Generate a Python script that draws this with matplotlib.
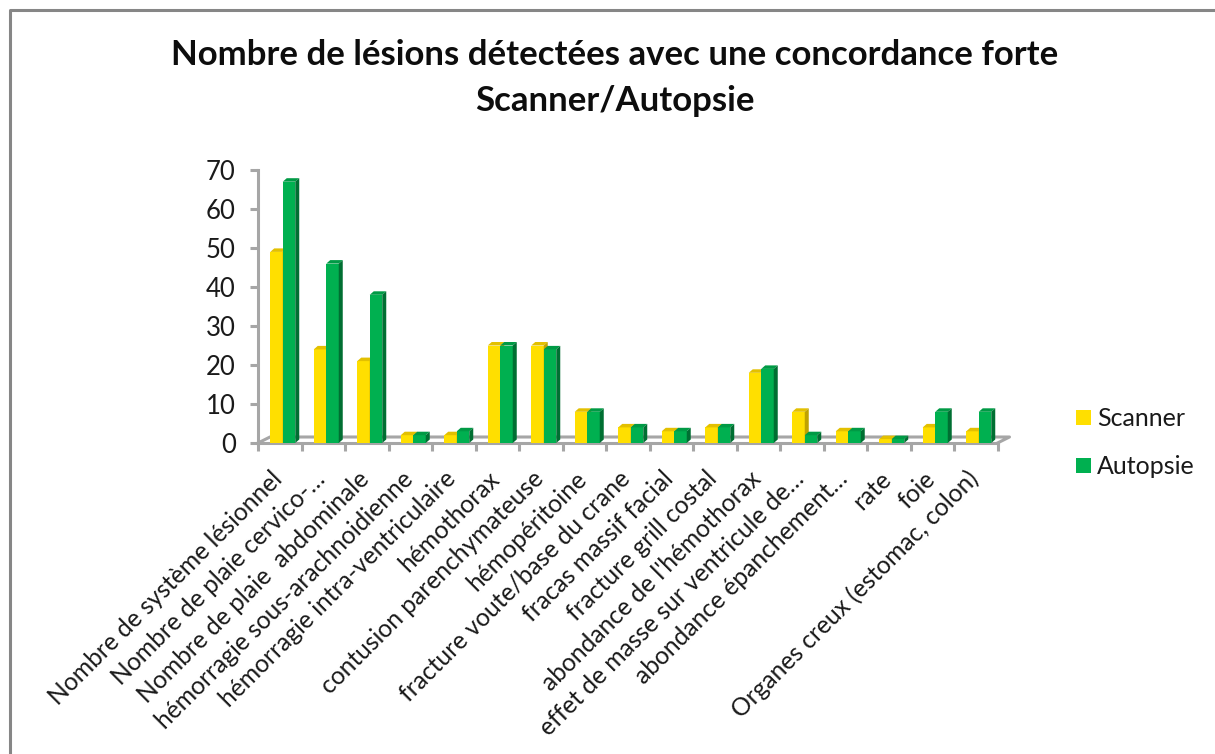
import matplotlib
matplotlib.use('Agg')
import matplotlib.pyplot as plt
from matplotlib.patches import Polygon, Rectangle

categories = ["Nombre de système lésionnel", "Nombre de plaie cervico-…",
              "Nombre de plaie  abdominale", "hémorragie sous-arachnoidienne",
              "hémorragie intra-ventriculaire", "hémothorax",
              "contusion parenchymateuse", "hémopéritoine",
              "fracture voute/base du crane", "fracas massif facial",
              "fracture grill costal", "abondance de l'hémothorax",
              "effet de masse sur ventricule de…", "abondance épanchement…",
              "rate", "foie", "Organes creux (estomac, colon)"]
scanner = [49, 24, 21, 2, 2, 25, 25, 8, 4, 3, 4, 18, 8, 3, 1, 4, 3]
autopsie = [67, 46, 38, 2, 3, 25, 24, 8, 4, 3, 4, 19, 2, 3, 1, 8, 8]
yticks = [0, 10, 20, 30, 40, 50, 60, 70]

W, H = 1215, 754
plt.rcParams['font.family'] = ['Lato', 'DejaVu Sans']

fig = plt.figure(figsize=(W / 100, H / 100), dpi=100)
# axes placed in pixels: floor at y=443, top at y=170, x from 258 to 997.5
ax = fig.add_axes([258 / W, 1 - 443 / H, 739.5 / W, 273 / H])
ax.set_xlim(0, 17)
ax.set_ylim(0, 70)
ax.patch.set_alpha(0)

# depth of the fake 3d, in data units
px_x = 17 / 739.5
px_y = 70 / 273
bar_w = 12.5 * px_x
dx, dy = 4 * px_x, 3.5 * px_y
shift = 3 * px_x

xs = [i + 0.5 + shift for i in range(len(categories))]
yellow, yellow_top, yellow_side = '#ffdf00', '#e3c000', '#bfa200'
green, green_top, green_side = '#00b050', '#009a45', '#006f32'

def bar3d(x, v, front, top, side):
    ax.bar(x, v, bar_w, color=front, align='edge', zorder=3)
    ax.add_patch(Polygon([(x, v), (x + dx, v + dy), (x + bar_w + dx, v + dy), (x + bar_w, v)],
                         color=top, lw=0, zorder=3, clip_on=False))
    ax.add_patch(Polygon([(x + bar_w, 0), (x + bar_w + dx, dy), (x + bar_w + dx, v + dy), (x + bar_w, v)],
                         color=side, lw=0, zorder=3, clip_on=False))

for x, a, b in zip(xs, scanner, autopsie):
    bar3d(x - bar_w, a, yellow, yellow_top, yellow_side)
    bar3d(x, b, green, green_top, green_side)

grey = '#a6a6a6'
# floor back line and the two slanted ends
ox, oy = 12 * px_x, 6 * px_y
ax.plot([0, ox, 17 + ox, 17], [0, oy, oy, 0], color=grey, lw=2.2, clip_on=False, zorder=1)

for s in ['top', 'right']:
    ax.spines[s].set_visible(False)
for s in ['left', 'bottom']:
    ax.spines[s].set_color(grey)
    ax.spines[s].set_linewidth(2.2)

ax.set_yticks(yticks)
ax.set_xticks(range(len(categories) + 1))
ax.set_xticklabels([])
ax.tick_params(axis='both', color=grey, width=2.2, length=6)
ax.tick_params(axis='y', labelsize=18.5, pad=10, labelcolor='#1a1a1a')

# labels rotated 45deg and anchored at their end
for i, c in enumerate(categories):
    ax.annotate(c, (i + 0.5, 0), xytext=(-1, -23), textcoords='offset points',
                rotation=45, rotation_mode='anchor', ha='right', va='center',
                fontsize=17.7, color='#1a1a1a', annotation_clip=False)

fig.text(615 / W, 1 - 55 / H, "Nombre de lésions détectées avec une concordance forte",
         ha='center', va='center', fontsize=25, fontweight='bold', color='#0d0d0d')
fig.text(615 / W, 1 - 101 / H, "Scanner/Autopsie",
         ha='center', va='center', fontsize=25, fontweight='bold', color='#0d0d0d')

# legend
for y0, c, t in [(418, yellow, 'Scanner'), (466, green, 'Autopsie')]:
    fig.add_artist(Rectangle((1076 / W, 1 - (y0 + 7) / H), 15 / W, 15 / H, color=c, lw=0,
                             transform=fig.transFigure))
    fig.text(1097 / W, 1 - y0 / H, t, ha='left', va='center', fontsize=18, color='#1a1a1a')

# chart frame
fig.add_artist(plt.Line2D([9.5 / W, 9.5 / W, 1], [0, 1 - 9.5 / H, 1 - 9.5 / H], color='#868686', lw=2.2,
                          transform=fig.transFigure))

fig.savefig('out.png', dpi=100)
